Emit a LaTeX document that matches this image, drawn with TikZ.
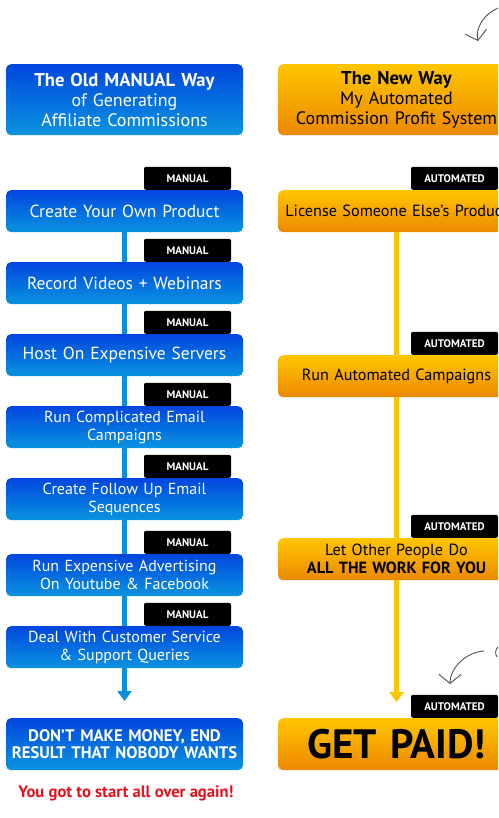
\documentclass[tikz,border=0pt]{standalone}
\usepackage{fontspec}
\setmainfont{PT Sans}
\usetikzlibrary{positioning,arrows.meta}

\definecolor{bluetop}{HTML}{0046DE}
\definecolor{bluebot}{HTML}{0A94DF}
\definecolor{orangetop}{HTML}{FFC600}
\definecolor{orangebot}{HTML}{EC8800}
\definecolor{blueline}{HTML}{0A8FDC}
\definecolor{orangeline}{HTML}{FFC400}
\definecolor{redtext}{HTML}{E5101C}
\definecolor{pengray}{HTML}{505050}

\tikzset{
  oldbox/.style={rectangle, rounded corners=5pt, top color=bluetop, bottom color=bluebot,
    text=white, minimum width=237pt, minimum height=42pt, text width=235pt, align=center,
    inner sep=0pt, font=\fontsize{17.5}{19}\selectfont},
  twoline/.style={font=\fontsize{16}{18}\selectfont},
  newbox/.style={oldbox, top color=orangetop, bottom color=orangebot, text=black,
    font=\fontsize{16.2}{18}\selectfont},
  headbox/.style={minimum height=71pt, font=\fontsize{18}{20}\selectfont},
  tabbox/.style={rectangle, fill=black, rounded corners=2pt, text=white, minimum width=87pt,
    minimum height=23pt, inner sep=0pt, font=\bfseries\fontsize{11}{12}\selectfont},
  oldlink/.style={draw=blueline, line width=5pt},
  newlink/.style={draw=orangeline, line width=5pt},
  pen/.style={draw=pengray, line width=0.9pt, -{Straight Barb[length=9pt,width=22pt]}}
}

\begin{document}
\begin{tikzpicture}[x=1pt, y=-1pt, anchor=north]
\useasboundingbox (0,0) rectangle (498,818);
\clip (0,0) rectangle (498,818);

% old manual way
\node[oldbox, headbox] (oldhead) at (124.5,64) {\textbf{\fontsize{18.6}{20}\selectfont The Old MANUAL Way}\\of Generating\\Affiliate Commissions};
\node[oldbox] (s1) at (124.5,190) {Create Your Own Product};
\node[oldbox] (s2) at (124.5,262) {Record Videos + Webinars};
\node[oldbox] (s3) at (124.5,334) {Host On Expensive Servers};
\node[oldbox, twoline] (s4) at (124.5,406) {Run Complicated Email\\Campaigns};
\node[oldbox, twoline] (s5) at (124.5,478) {Create Follow Up Email\\Sequences};
\node[oldbox, twoline] (s6) at (124.5,554) {Run Expensive Advertising\\On Youtube \& Facebook};
\node[oldbox, twoline] (s7) at (124.5,626) {Deal With Customer Service\\\& Support Queries};
\node[oldbox, minimum height=52pt, font=\bfseries\fontsize{16.7}{17.5}\selectfont] (result) at (124.5,718) {DON'T MAKE MONEY, END\\RESULT THAT NOBODY WANTS};
\node[anchor=center, text=redtext, font=\bfseries\fontsize{16.6}{18}\selectfont] (again) at (126,793) {You got to start all over again!};

\foreach \s in {s1,s2,s3,s4,s5,s6,s7}
  \node[tabbox, anchor=south east] (tab\s) at ([xshift=-12pt]\s.north east) {MANUAL};

\draw[oldlink] (s1) -- (s2);
\draw[oldlink] (s2) -- (s3);
\draw[oldlink] (s3) -- (s4);
\draw[oldlink] (s4) -- (s5);
\draw[oldlink] (s5) -- (s6);
\draw[oldlink] (s6) -- (s7);
\draw[oldlink, -{Triangle[length=10pt,width=14pt]}, shorten >=17pt] (s7) -- (result);

% new automated way
\node[newbox, headbox] (newhead) at (396.5,64) {\textbf{\fontsize{18.6}{20}\selectfont The New Way}\\My Automated\\Commission Profit System};
\node[newbox] (a1) at (396.5,190) {License Someone Else's Product};
\node[newbox] (a2) at (396.5,355) {Run Automated Campaigns};
\node[newbox] (a3) at (396.5,538) {Let Other People Do\\\textbf{ALL THE WORK FOR YOU}};
\node[newbox, minimum height=52pt, font=\bfseries\fontsize{41}{42}\selectfont] (paid) at (396.5,718) {GET PAID!};

\foreach \s in {a1,a2,a3,paid}
  \node[tabbox, anchor=south east] (tab\s) at ([xshift=-17pt]\s.north east) {AUTOMATED};

\draw[newlink] (a1) -- (a2);
\draw[newlink] (a2) -- (a3);
\draw[newlink, -{Triangle[length=10pt,width=14pt]}, shorten >=16pt] (a3) -- (paid);

% hand drawn pointers
\coordinate (penA) at (498,8);
\coordinate (tipA) at (478,41);
\draw[pen] (penA) .. controls (484,14) and (475,28) .. (tipA);
\coordinate (penB) at (484,651);
\coordinate (tipB) at (450,684);
\draw[pen] (penB) .. controls (466,652) and (450,668) .. (tipB);
\draw[draw=pengray, line width=0.9pt] (498,647) .. controls (495,650) and (495,654) .. (497,657);
\end{tikzpicture}
\end{document}
